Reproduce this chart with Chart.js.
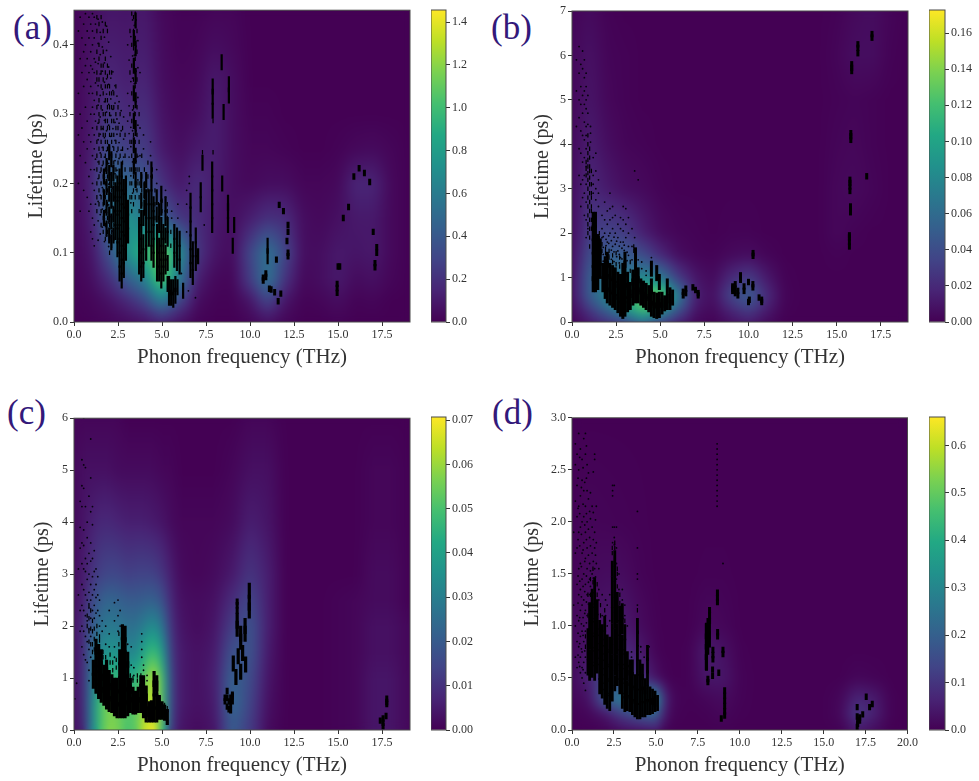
<!DOCTYPE html>
<html><head><meta charset="utf-8">
<script src="https://cdn.jsdelivr.net/npm/chart.js@4"></script>
<style>
html,body{margin:0;padding:0;background:#fff;width:979px;height:781px;overflow:hidden}
canvas{position:absolute;filter:blur(.35px)}
.tag{position:absolute;font:35px/40px "Liberation Serif",serif;color:#33197a}
</style></head><body>
<div class="tag" style="left:13px;top:8px">(a)</div>
<div class="tag" style="left:491px;top:8px">(b)</div>
<div class="tag" style="left:7px;top:393px">(c)</div>
<div class="tag" style="left:492px;top:393px">(d)</div>
<script>
const xLabel='Phonon frequency (THz)', yLabel='Lifetime (ps)';
const xTicks=['0.0','2.5','5.0','7.5','10.0','12.5','15.0','17.5'];
const xTicksD=['0.0','2.5','5.0','7.5','10.0','12.5','15.0','17.5','20.0'];
const yTicksA=['0.0','0.1','0.2','0.3','0.4'];
const yTicksB=['0','1','2','3','4','5','6','7'];
const yTicksC=['0','1','2','3','4','5','6'];
const yTicksD=['0.0','0.5','1.0','1.5','2.0','2.5','3.0'];
const barTicksA=['0.0','0.2','0.4','0.6','0.8','1.0','1.2','1.4'];
const barTicksB=['0.00','0.02','0.04','0.06','0.08','0.10','0.12','0.14','0.16'];
const barTicksC=['0.00','0.01','0.02','0.03','0.04','0.05','0.06','0.07'];
const barTicksD=['0.0','0.1','0.2','0.3','0.4','0.5','0.6'];
const barMaxA=1.456, barMaxB=0.1728, barMaxC=0.0707, barMaxD=0.66;

// density fields: node frequencies, node lifetimes (top to bottom), one row per lifetime
const heatXA=[0,1,2,3,4,5,6,7,8,9,10,11,12,13,14,15,16,17,18,19.1];
const heatYA=[.45,.40,.35,.30,.25,.20,.15,.10,.06,.03,0];
const heatA=[
[.02,.05,.09,.08,.10,.03,.01,.01,.02,.02,0,0,0,0,0,0,0,0,0,0],
[.02,.07,.12,.10,.12,.04,.01,.02,.05,.03,0,0,0,0,0,0,0,0,0,0],
[.02,.08,.16,.12,.15,.05,.02,.03,.10,.05,0,0,0,0,0,0,0,0,0,0],
[.02,.09,.24,.16,.20,.07,.03,.05,.12,.05,.01,.01,0,0,0,0,0,0,0,0],
[.02,.11,.36,.26,.26,.10,.05,.10,.12,.05,.02,.02,.01,0,0,.01,.03,.04,.02,0],
[.02,.14,.52,.50,.40,.20,.09,.18,.11,.05,.03,.05,.05,.02,.02,.03,.15,.15,.03,0],
[.02,.12,.52,.75,.60,.45,.22,.18,.10,.05,.12,.20,.18,.05,.03,.06,.10,.10,.03,0],
[.02,.08,.36,.72,.95,1.2,.70,.22,.08,.04,.30,.55,.30,.05,.05,.10,.08,.10,.03,0],
[.01,.05,.18,.40,.60,1.1,.55,.12,.03,.02,.25,.55,.20,.03,.05,.10,.04,.06,.02,0],
[.01,.02,.07,.16,.30,.60,.30,.05,.01,.01,.08,.30,.08,.01,.02,.05,.01,.02,0,0],
[0,.01,.02,.04,.06,.10,.05,.01,0,0,.02,.05,.02,0,0,.01,0,0,0,0]];

const heatXB=[0,1,2,3,4,5,6,7,8,9,10,11,12,13,14,15,16,17,18,19.1];
const heatYB=[7,6,5,4,3,2,1.5,1,.6,.3,0];
const heatB=[
[.002,.005,.001,0,0,0,0,0,0,0,0,0,0,0,0,.001,.004,.006,.002,0],
[.003,.008,.002,.001,0,0,0,0,0,0,0,0,0,0,0,.002,.006,.006,.001,0],
[.003,.010,.003,.001,0,0,0,0,0,0,0,0,0,0,0,.001,.002,.001,0,0],
[.004,.014,.006,.002,.001,0,0,0,0,0,0,0,0,0,0,.002,.003,.001,0,0],
[.005,.020,.012,.006,.004,.001,0,0,0,0,0,0,0,0,0,.003,.004,.002,0,0],
[.004,.030,.035,.030,.015,.005,.002,.001,0,.001,.001,0,0,0,0,.003,.001,0,0,0],
[.004,.040,.050,.050,.040,.020,.006,.002,.001,.004,.006,.002,0,0,0,.001,0,0,0,0],
[.004,.050,.070,.070,.080,.070,.030,.010,.004,.020,.030,.012,.001,0,0,0,0,0,0,0],
[.004,.050,.080,.100,.130,.140,.070,.015,.006,.035,.050,.022,.002,0,0,0,0,0,0,0],
[.003,.030,.060,.090,.130,.100,.050,.010,.004,.020,.035,.015,.001,0,0,0,0,0,0,0],
[.001,.010,.020,.030,.050,.030,.012,.003,.001,.006,.010,.004,0,0,0,0,0,0,0,0]];

const heatXC=[0,.5,1,1.5,2,2.5,3,3.5,4,4.5,5,5.5,6,7,8,9,10,11,12,14,16,17,18,19.1];
const heatYC=[6,5,4,3,2.5,2,1.5,1,.5,0];
const heatC=[
[.001,.001,.001,.001,.001,.001,0,0,0,0,0,0,0,0,0,0,.001,.001,0,0,0,0,0,0],
[.001,.003,.003,.003,.003,.002,.002,.002,.002,.002,.001,.001,0,0,0,.001,.003,.003,0,0,0,.001,.001,0],
[.001,.004,.006,.008,.008,.007,.006,.006,.006,.005,.004,.002,.001,.001,.001,.002,.006,.004,0,0,0,.001,.001,0],
[.002,.005,.010,.014,.015,.015,.013,.014,.014,.014,.011,.006,.002,.001,.002,.005,.011,.006,0,0,0,.002,.002,0],
[.002,.006,.015,.021,.023,.022,.020,.020,.021,.022,.018,.008,.003,.002,.003,.009,.015,.006,0,0,.001,.002,.002,0],
[.003,.008,.020,.027,.029,.028,.026,.026,.030,.035,.028,.010,.004,.002,.004,.013,.018,.006,0,0,.001,.003,.003,.001],
[.003,.008,.024,.034,.037,.036,.032,.032,.042,.050,.040,.012,.005,.003,.005,.018,.018,.005,0,0,.001,.003,.003,.001],
[.003,.008,.028,.042,.048,.046,.042,.045,.052,.065,.050,.014,.005,.003,.006,.022,.016,.004,0,0,.001,.004,.004,.001],
[.003,.007,.030,.050,.058,.055,.050,.052,.060,.068,.052,.014,.005,.003,.005,.024,.014,.003,0,0,.001,.004,.004,.001],
[.003,.006,.030,.050,.058,.056,.050,.052,.065,.070,.050,.012,.004,.002,.004,.020,.012,.002,0,0,.001,.004,.004,.001]];

const heatXD=[0,1,2,3,4,5,5.5,6,7,8,9,10,11,12,13,14,15,16,17,18,19,20];
const heatYD=[3,2,1.5,1,.75,.5,.3,.15,0];
const heatD=[
[0,0,0,0,0,0,0,0,0,0,0,0,0,0,0,0,0,0,0,0,0,0],
[.004,.008,.006,.004,.002,0,0,0,0,0,0,0,0,0,0,0,0,0,0,0,0,0],
[.006,.015,.020,.020,.005,0,0,0,0,.002,.002,0,0,0,0,0,0,0,0,0,0,0],
[.010,.030,.040,.050,.020,.002,0,0,0,.015,.010,0,0,0,0,0,0,0,0,0,0,0],
[.010,.040,.070,.080,.050,.005,0,0,.002,.050,.030,.002,0,0,0,0,0,0,0,0,0,0],
[.015,.060,.150,.120,.100,.030,.005,0,.002,.040,.040,.005,0,0,0,0,0,0,.010,.005,0,0],
[.010,.030,.200,.280,.250,.350,.080,.010,.001,.010,.020,.004,0,0,0,0,0,.010,.070,.050,.002,0],
[.003,.010,.040,.120,.180,.220,.050,.005,0,.002,.010,.002,0,0,0,0,0,.012,.110,.060,.002,0],
[0,.001,.004,.015,.020,.030,.005,0,0,0,.002,0,0,0,0,0,0,.003,.040,.020,0,0]];

// phonon points, each row: frequency, then lifetimes. Fine specks, short dashes, tall packed cores.
const specksA=[
[.25,.42,.33,.27,.2],[.35,.44,.38,.3,.24,.16],[.45,.41,.36,.28],[.55,.43,.39,.34,.26,.19],
[.65,.445,.4,.37,.31,.23],[.75,.42,.38,.35,.29,.25,.18],[.85,.44,.41,.36,.33,.27,.21,.16],
[.95,.43,.39,.37,.34,.3,.26,.22,.17,.13],[1.05,.445,.42,.4,.365,.33,.31,.28,.24,.2,.15,.12],
[1.15,.44,.41,.38,.36,.32,.3,.27,.25,.22,.19,.14,.11],[1.22,.43,.375,.345,.29,.235,.17],
[1.37,.437,.402,.373,.341,.313,.287,.263,.231,.207,.174,.146,.118],
[1.49,.418,.386,.358,.327,.296,.271,.244,.216,.183,.155,.127],
[1.61,.433,.397,.362,.336,.306,.279,.252,.226,.194,.163,.137],
[1.73,.411,.374,.346,.318,.291,.266,.238,.209,.178,.149,.116],
[1.85,.427,.392,.351,.329,.303,.276,.247,.219,.188,.158,.124],
[1.97,.404,.368,.343,.314,.284,.256,.229,.199,.169,.143,.109],
[2.09,.383,.352,.322,.298,.268,.241,.213,.186,.152,.122],
[2.21,.361,.334,.307,.279,.253,.224,.193,.167,.131],
[2.33,.341,.316,.288,.262,.233,.214,.176],[2.44,.326,.293,.271,.246,.219],
[2.56,.318,.287,.259,.236],[2.68,.305,.276,.248],[2.82,.296,.264,.238],[3.13,.378,.312,.272,.238],
[3.23,.412,.347,.281,.253,.211,.172],[3.33,.436,.384,.352,.306,.276,.231,.186],[3.43,.428,.385,.344,.303,.258,.214],
[3.53,.436,.398,.362,.318,.276,.232,.191],[3.63,.406,.367,.324,.284,.239,.205],
[3.05,.4,.33,.29,.25],[3.75,.36,.28,.24],[3.95,.27,.25],[4.35,.26,.24],[4.7,.22,.2],[5.2,.19,.18],
[5.9,.17,.15],[6.4,.19,.17,.13],[6.55,.21,.2],[5.55,.15,.16],[7.4,.14],[6.9,.035],[6.5,.045],[6.1,.07]];
const dashesA=[
[1.3,.44,.42,.39,.36,.35,.33,.31,.28,.26,.24,.22,.2,.18,.16],
[1.42,.43,.4,.38,.35,.32,.3,.29,.27,.25,.23,.21,.19,.17],
[1.54,.44,.41,.37,.36,.34,.31,.28,.26,.24,.22,.2,.18,.16,.14],
[1.66,.42,.39,.37,.35,.33,.3,.28,.27,.25,.23,.21,.19,.17,.15,.13],
[1.78,.43,.38,.36,.34,.32,.3,.29,.27,.26,.24,.22,.2,.18,.16,.14,.12],
[1.9,.42,.37,.355,.34,.32,.31,.29,.28,.26,.25,.23,.21,.19,.17,.15,.13],
[2.02,.36,.34,.33,.31,.3,.28,.27,.25,.24,.22,.2,.18,.16,.14,.12,.1],
[2.14,.36,.33,.31,.29,.27,.26,.24,.23,.21,.19,.17,.15,.13,.11],
[2.26,.33,.31,.29,.27,.25,.23,.22,.2,.18,.16,.14,.12],[2.38,.34,.3,.28,.26,.24,.22,.21],
[2.5,.31,.28,.25,.23],[2.62,.3,.27,.24],[2.76,.28,.25,.23],[2.9,.27,.24,.22],
[3.18,.42,.36,.3,.26,.22,.2,.18],[3.28,.445,.4,.37,.33,.29,.26,.24,.22,.2,.18,.16],
[3.38,.44,.42,.395,.37,.35,.33,.31,.29,.27,.25,.23,.21,.19,.17],
[3.48,.445,.43,.41,.38,.36,.34,.32,.3,.28,.26,.24,.22,.2,.18],
[3.58,.42,.39,.35,.31,.27,.24,.22,.2,.19],[3.7,.3,.26,.22,.2,.18,.16],[3.85,.24,.21,.19,.17],
[4,.22,.2,.18],[4.2,.23,.21,.19],[4.45,.22,.21],[4.6,.19,.17,.15],[4.8,.17,.15],[5,.175,.16],
[5.3,.17,.16,.15],[5.5,.13,.11],[7.3,.245],[7.9,.245,.29],
[10.75,.06,.064],[10.9,.065,.07],[11.1,.048],[11.2,.047],[11.4,.043],[11.6,.03],[11.75,.041],[11.5,.09],
[11.66,.169],[11.9,.16],[12.16,.13,.14,.1,.095],[12.1,.117],[15.3,.15],[15.6,.166],[15,.08],[15.1,.08],
[14.95,.049,.042,.055],[17,.13],[17.2,.108,.1],[17.1,.079,.085],[16.2,.222],[15.9,.21],[16.5,.215],[16.8,.202]];
const coresA=[
[1.7,.15,.18,.21],[1.85,.135,.165,.195,.225],[2,.125,.155,.185,.215,.245],[2.12,.115,.145,.175,.205,.235],[2.24,.125,.155,.185,.215],
[3.4,.225,.255,.29,.33,.37,.41],[3.5,.205,.24,.28,.32,.355,.395,.435],
[3.82,.175,.205],[4,.165,.19],[4.1,.205],[4.4,.22],[4.7,.155,.18],[4.96,.165,.185],[5.2,.15,.17],
[2.35,.13,.15,.17,.19],[2.47,.105,.125,.145,.165,.185,.2],[2.59,.07,.09,.11,.13,.15,.17,.19,.21],
[2.71,.06,.08,.1,.12,.14,.16,.18,.2,.22],[2.83,.075,.095,.115,.135,.155,.175,.195],
[2.95,.1,.12,.14,.16,.18,.2],[3.07,.125,.145,.165],
[3.7,.08,.1,.12,.14],[3.82,.07,.09,.11,.13,.15],[3.94,.075,.095,.115,.15],[4.1,.1,.12,.14,.16,.18],
[4.25,.12,.14,.16,.18],[4.4,.1,.12,.14,.16,.18,.2],[4.52,.09,.11,.13,.15,.17],
[4.72,.07,.09,.11,.13],[4.84,.07,.09,.11,.14,.16],[4.96,.06,.08,.1,.12,.14],[5.08,.07,.09,.11,.13],
[5.2,.08,.1,.125],[5.32,.055,.085,.12,.14],[5.4,.035,.055],[5.52,.035,.05],[5.64,.032,.05],
[5.76,.038,.055],[5.88,.05],[5.7,.09,.11,.13],[5.85,.085,.105,.125],[6,.08,.1,.12],[6.2,.045],
[6.62,.075,.095,.115,.135,.155,.175],[6.75,.065,.085,.105],[6.92,.085,.105,.125],[7.05,.095],
[7.2,.17,.19],[7.3,.23],[7.85,.14,.16,.18,.2,.22],[7.88,.305,.325,.34],[8.39,.375],[8.5,.303],
[8.8,.327,.343],[8.42,.2],[8.75,.14,.16,.172],[9.1,.14],[9.02,.11],[11,.095,.11]];

const specksB=[
[.25,5.9,5.2,4.4],[.4,6.2,5.6,5,4.6,3.9,3.3],[.5,5.8,5.3,4.9,4.3,3.8,3.1,2.6],
[.6,6.1,5.7,5.1,4.7,4.2,3.6,3.2,2.8],[.7,5.9,5.5,5.2,4.9,4.5,4.1,3.7,3.3,2.9,2.4],
[.8,5.6,5.3,5,4.8,4.4,4.2,3.9,3.5,3.1,2.7,2.3,1.9],[.9,5.1,4.7,4.45,2.1],[1.05,4.4,4.25,4.05],
[1.2,3.7,3.3,3.1,2.9],[1.35,3.8,3.4,3,2.75],[1.5,3.2,2.9,2.6],[1.7,2.4,2.1,1.9],[1.85,2.7,2.3,2],
[2,2.5,2.2,1.8],[2.15,2.9,2.55,2.3,2],[2.3,2.6,2.35,2.1,1.7],[2.45,2.4,2,1.75],[2.6,2.2,1.9,1.6],
[2.75,2.35,2.1,1.8,1.45],[2.9,2.6,2.3,2.05,1.8],[3.05,2.55,2.2,1.9],[3.2,2.35,2,1.7,1.5],
[3.4,2.1,1.7,1.4],[3.55,3.4,1.9],[3.75,3.2,1.4],[3.95,1.35,1.2],[4.2,1.15,1.05],[4.5,1.45],
[1.77,1.92,1.68,1.52,1.37],[1.93,1.86,1.72,1.43],[2.08,1.94,1.77,1.51],[2.23,1.83,1.62,1.41],
[2.38,1.91,1.58,1.36],[2.53,1.82,1.47],[2.68,1.71,1.52,1.33],[2.83,1.66,1.42],[2.96,1.73,1.61],[3.12,1.57,1.38]];
const dashesB=[
[.8,3.6,3.45,3.3],[.9,4.2,4,3.8,3.65,3.5,3.35,3.2,3,2.8,2.6,2.4,2.2,2],[1,3.9,3.7,3.5,3.4,3.25,3.1,2.9,2.7,2.5,2.3,2.1,1.9,1.7],
[1.1,3.4,3.1,2.9,2.8,2.6,2.5,2.3,2.1],[1.55,2,1.9],[1.7,1.75,1.6],[1.9,1.55,1.65],[2.1,1.6,1.45],[2.3,1.5,1.35],
[2.5,1.55,1.3],[2.7,1.45,1.25],[3.3,1.35,1.15],[3.5,1.7,1.6],
[6.3,.68,.6],[6.45,.75,.65],[6.85,.78],[7,.72],[7.15,.65,.6],[9.1,.8,.75,.7],[9.25,.85,.75,.65],[9.4,.7,.6],
[9.55,.95,1.05],[9.75,.7,.8],[10,.9,.45],[10.05,.5],[10.25,.85,.78],[10.6,.55],[10.75,.5,.45],
[17,6.48,6.4],[16.2,6.17,6.05,6.25],[15.85,5.72,5.65,5.8],[15.8,4.18,4.1,4.25],[16.7,3.28],
[15.75,3.13,3.05,3.2,2.95],[15.78,2.54,2.47,2.6],[15.72,1.8,1.7,1.9,1.95],[10.26,1.49,1.55]];
const coresB=[
[1.2,.85,1.1,1.4,1.7,2,2.3],[1.33,.85,1.15,1.45,1.75,2,2.3],[1.46,.9,1.2,1.5,1.8],[1.6,1.15,1.45,1.7],
[1.75,.85,1.15],[1.88,.7,1,1.3],[2,.6,.9,1.2,1.4],[2.15,.55,.85,1.15],[2.3,.5,.8,1.1],[2.45,.45,.75,1.05],
[2.6,.38,.68,.95],[2.75,.3,.6,.9],[2.88,.25,.55,.85,1.15],[3,.3,.6,.9,1.2,1.4],[3.15,.4,.7,.95],[3.3,.45,.72],
[3.45,.55,.8,1],[3.6,.6,.9,1.2,1.5],[3.75,.6,.85,1.05],[3.9,.55,.8],[4.05,.5,.75],[4.2,.45,.7],[4.35,.4,.65],
[4.5,.3,.55,.8,1.2],[4.65,.27,.5],[4.8,.25,.48,1.1],[4.95,.27,.5,.9],[5.1,.35,.5],[5.25,.42],[5.4,.45,.8],
[5.55,.45,.6],[5.7,.55]];

const specksC=[
[.05,.6],[.15,.9],[.25,3.1,2.6],[.35,4.4,3.9,3.5,2.3,1.9],[.45,5.2,4.7,4.3,3.6,3.2,2.8,2.4,2,1.6],
[.55,6,5.1,4.65,3.85,3.55,3.1,2.7,2.3,1.9,1.45],[.65,5.05,4.3,3.3,3.05,2.6,2.2,1.8,1.35],
[.75,4,3.7,3.2,2.9,2.5,2.1,1.7,1.3],[.85,4.5,3.4,3,2.65,2.35,1.95,1.55,1.15,.95],
[.95,5.6,4.85,4.2,3.6,3.25,2.8,2.5,2.15,1.8,1.4],[1.05,4.3,3.95,3.3,2.95,2.6,2.3],[1.15,3.45,3.05,2.7,2.4,2.15],
[1.25,3.1,2.8,2.55,2.25],[1.35,2.95,2.6,2.3],[1.45,2.5,2.2,2],[1.6,2.1,1.9],[1.8,2,1.65],[2,2.3,1.85,1.6],
[2.3,2.45,2.1,1.6,1.4],[2.5,2.5,2.2,1.9],[2.62,2.3,2],[3.05,1.65],[3.25,1.6,1.25],[3.4,1.2,1.05],
[3.85,1.85,1.7,1.55,1.4],[3.95,1.25,1.15],[4.15,1.05,.95],[5.35,.36]];
const dashesC=[
[.75,2.2,2],[.85,2.4,2.15,1.9,1.7],[.95,2.3,1.95,1.65],[1.05,2.1,1.9,1.65,1.5],[1.15,1.95,1.75,1.55],
[1.3,2,1.85],[1.45,1.8,1.72],[1.65,1.5,1.4],[1.8,1.4,1.3],[2.05,1.45,1.3],[2.2,1.3,1.15],[2.4,1.35,1.2],
[2.55,1.65,1.85],[3.2,1.05],[3.35,.95,1],[3.6,.95,1.05],[3.8,1.05],[5.15,.48],[5.3,.42],
[8.58,.55,.62],[8.7,.75,.45,.62],[8.8,.4,.55],[8.9,.38,.5,.62],[9,.55,.65,.68],[9.27,2.3,2.4,2.47],
[17.77,.6,.54,.5],[17.56,.22,.14,.07],[17.4,.18],[17.73,.27]];
const coresC=[
[1.1,.95,1.2],[1.25,.85,1.1,1.35,1.6],[1.4,.75,1,1.25,1.5],[1.55,.68,.93,1.18,1.4],[1.7,.62,.87,1.1],
[1.85,.55,.8,1.05,1.2],[2,.5,.75,1],[2.15,.48,.7,.92],[2.3,.42,.65,.85],[2.45,.38,.6,.85],
[2.6,.38,.63,.88,1.15,1.4],[2.75,.38,.63,.88,1.13,1.38,1.63,1.88],[2.9,.38,.63,.88,1.13,1.38,1.63,1.85],
[3.05,.42,.67,.92,1.17,1.35],[3.2,.48,.7,.85],[3.35,.45,.68],[3.5,.45,.6],[3.65,.48,.68],[3.8,.48,.73,.9],
[3.95,.38,.63,.9],[4.1,.3,.55,.7],[4.25,.3,.4],[4.4,.3,.42],[4.55,.3,.55,.8,.98],[4.7,.3,.55,.8,.9],
[4.85,.35,.52],[5,.35,.4],[5.15,.33],[5.3,.25],
[9.96,2.68,2.45,2.3],[9.72,2,1.85],[9.27,2.1,1.95],[9.47,1.85,1.7],[9.58,1.48],[9.33,1.42],[9.05,1.28],
[9.75,1.26],[9.2,1.02],[9.47,1.12]];

const specksD=[
[.1,1.9,1.2],[.2,2.75,2.55,2.2,1.7,1,.7],[.3,2.65,2.35,2.05,1.75,1.4,1.1,.85,.6],
[.4,2.85,2.5,2.15,1.9,1.55,1.3,1.05,.8,.65],[.5,2.7,2.25,1.95,1.6,1.35,1.15,.9,.7,.55],
[.6,2.6,2.4,2,1.7,1.45,1.2,.95,.75,.6,.5],[.7,2.8,2.3,2.05,1.8,1.5,1.25,1,.85,.65,.45],
[.8,2.85,2.65,2.15,1.9,1.65,1.4,1.15,.95,.7,.55,.38],[.9,2.55,2.3,2,1.75,1.55,1.3,1.1],
[1.05,2.1,1.85,1.6,1.45,1.3],[1.2,2.15,1.95,1.7,1.5],[1.35,2.65,2.6,1.9,1.75,1.55],[1.45,2.15,1.8,1.6],
[.36,2.42,2.13,1.83,1.48,1.22,.93,.72],[.46,2.62,2.08,1.77,1.43,1.08,.83,.61],[.56,2.33,1.88,1.57,1.28,1.02,.78],
[.66,2.52,2.17,1.73,1.38,1.08,.91,.58],[.76,2.38,1.97,1.62,1.33,1.12,.76],[.86,2.73,2.42,2.08,1.83,1.48,1.23,1.03],
[.98,2.47,2.22,1.93,1.68,1.42,1.21],[1.1,2.28,2.03,1.77,1.53,1.38],[1.27,2.48,2.09,1.83,1.62,1.46],[1.4,2.02,1.68,1.47],
[1.6,1.55,1.35,1.25],[1.8,1.3,1.1],[2,1.25,1.1],[2.1,1.2,1],[2.25,1.3,1.05],[2.42,2.35,2.3,2.25,1.95,1.8],
[2.52,2.35,1.95,1.85,1.78],[2.65,1.95,1.75,1.6,1.45],[2.8,1.5,1.35],[3,1.35,1.25],[3.15,1.2,1.1],[3.3,1],
[3.55,.75,.7],[3.9,2.1,1.75,1.5,1.45,1.2],[4.1,.8,.75],[4.3,.7],[4.6,.8],
[8.65,2.75,2.7,2.65,2.6,2.55,2.5,2.45,2.4,2.35,2.3,2.25,2.2,2.15],[9,1.6]];
const dashesD=[
[.8,.9,.8],[.95,1.1,1.3],[1.1,1.3,1.45],[1.25,1.42,1.55],[1.5,1.3,1.4],[1.7,1.1,1.2],[1.95,1.15],[2.4,1.7,1.75],
[2.55,1.75,1.8],[2.7,1.38,1.5,1.55],[2.85,1.22,1.3],[3.15,1.05],[3.9,1.15,1.05],
[8.02,1,.95,.9,.85,.8,.75,.7,.65,.6],[8.2,1.15,1.1,1.05],[8.67,1.32,1.27,1.23],[8.68,.94,.9],[8.4,.77,.72,.68],
[9,.77,.73],[8.38,.58,.52],[8.1,.49,.46],[8.75,.55],[9.1,.38,.33,.28,.23,.18,.14],[8.9,.11],
[17,.22],[17.54,.32],[17.9,.25],[17.74,.22],[17.33,.15],[17,.13],[17.15,.09,.12],[17.03,.06,.09],[17,.03]];
const coresD=[
[.95,.6,.75,.9],[1.05,.55,.7,.85,1,1.15],[1.2,.58,.72,.86,1,1.14,1.28],[1.35,.55,.69,.83,.97,1.11,1.25,1.39],
[1.5,.62,.76,.9,1.04,1.18],[1.65,.42,.56,.7,.84,.98],[1.8,.38,.52,.66,.8,.94],[1.95,.32,.46,.6,.74,.88,1.02],
[2.1,.28,.42,.56,.7,.84],[2.25,.26,.4,.54,.68,.82],[2.4,.35,.5,.65,.8,.95,1.1,1.25,1.4,1.55],
[2.55,.45,.6,.75,.9,1.05,1.2,1.35,1.5,1.65],[2.7,.5,.65,.8,.95,1.1,1.25],[2.85,.42,.56,.7,.84,.98,1.12],
[3,.28,.42,.56,.7,.84,1,1.14],[3.15,.25,.38,.52,.66,.8,.94],[3.3,.26,.4,.55,.68],[3.45,.25,.38,.5,.6],
[3.6,.22,.35,.48,.6],[3.75,.2,.33,.46],[3.9,.18,.32,.46,.6,.74,.88,1],[4.05,.18,.32,.46,.6],
[4.2,.2,.34,.46,.56],[4.35,.2,.33,.42],[4.5,.22,.35,.5,.62,.74],[4.65,.22,.34],[4.8,.23,.32],[4.95,.25,.3],[5.1,.26],
[8,.95,.85,.75,.65],[8.1,1,.9,.8],[8.2,.95,.87]];

const viridis=['#440154','#482475','#414487','#355f8d','#2a788e','#21918c','#22a884','#44bf70','#7ad151','#bddf26','#fde725'];
const rgb=viridis.map(h=>[1,3,5].map(i=>parseInt(h.slice(i,i+2),16)));
function cmap(t){t=Math.max(0,Math.min(1,t))*10;const i=Math.min(9,Math.floor(t)),f=t-i;
  return rgb[i].map((c,k)=>c+(rgb[i+1][k]-c)*f);}
function expand(rows){const out=[];rows.forEach(r=>r.slice(1).forEach(y=>out.push({x:r[0],y})));return out;}
function seg(a,v){let i=0;while(i<a.length-2&&v>a[i+1])i++;const f=(v-a[i])/(a[i+1]-a[i]);return [i,Math.max(0,Math.min(1,f))];}

const heatPlugin={id:'heat',beforeDatasetsDraw(chart,_,o){
  const a=chart.chartArea,sx=chart.scales.x,sy=chart.scales.y,W=Math.round(a.width),H=Math.round(a.height);
  const off=document.createElement('canvas');off.width=W;off.height=H;const c=off.getContext('2d');
  const img=c.createImageData(W,H),ys=[...o.ys].reverse(),rows=[...o.z].reverse();
  for(let j=0;j<H;j++){const [yi,yf]=seg(ys,sy.getValueForPixel(a.top+j+.5));
    for(let i=0;i<W;i++){const [xi,xf]=seg(o.xs,sx.getValueForPixel(a.left+i+.5));
      const v=(rows[yi][xi]*(1-xf)+rows[yi][xi+1]*xf)*(1-yf)+(rows[yi+1][xi]*(1-xf)+rows[yi+1][xi+1]*xf)*yf;
      const q=cmap(v/o.max),p=(j*W+i)*4;img.data[p]=q[0];img.data[p+1]=q[1];img.data[p+2]=q[2];img.data[p+3]=255;}}
  c.putImageData(img,0,0);
  const g=chart.ctx;g.save();g.beginPath();g.rect(a.left,a.top,a.width,a.height);g.clip();
  g.drawImage(off,a.left,a.top);g.filter='blur(5px)';g.drawImage(off,a.left,a.top);g.restore();
}};
const framePlugin={id:'frame',afterDraw(chart){const a=chart.chartArea,g=chart.ctx;g.save();g.strokeStyle='#4a4a4a';g.lineWidth=1;
  g.strokeRect(a.left,a.top,a.width,a.height);g.restore();}};

function addCanvas(l,t,w,h){const c=document.createElement('canvas');c.width=w;c.height=h;
  c.style.cssText=`left:${l}px;top:${t}px;width:${w}px;height:${h}px`;document.body.appendChild(c);return c;}
const tickFont={family:'"Liberation Serif",serif',size:12};
const xTitleFont={family:'"Liberation Serif",serif',size:21};
const yTitleFont={family:'"Liberation Serif",serif',size:20};
function fixed(labels){return {afterBuildTicks(s){s.ticks=labels.map(l=>({value:Number(l)}));},
  ticks:{callback:(v,i)=>labels[i],font:tickFont,color:'#333',autoSkip:false,maxRotation:0,padding:2},
  grid:{drawOnChartArea:false,tickLength:4,tickColor:'#333'},border:{display:false}};}

function panel(p){
  const canvasL=p.canvasL,canvasT=p.plotT-10,canvasW=440,canvasH=p.plotB+51-canvasT;
  const isolated=expand(p.dashes).filter(d=>d.x>=p.markFrom), cloud=expand(p.dashes).filter(d=>d.x<p.markFrom);
  new Chart(addCanvas(canvasL,canvasT,canvasW,canvasH),{type:'scatter',
    data:{datasets:[
      {label:'specks',data:expand(p.specks),pointRadius:.9,pointHoverRadius:0,pointBackgroundColor:'#05020c',pointBorderWidth:0},
      {label:'dashes',data:cloud,pointStyle:'line',rotation:90,pointRadius:2.2,pointBorderWidth:1.2,pointBorderColor:'#000',pointBackgroundColor:'#000'},
      {label:'marks',data:isolated,pointStyle:'line',rotation:90,pointRadius:3.2,pointBorderWidth:3,pointBorderColor:'#000',pointBackgroundColor:'#000'},
      {label:'cores',data:expand(p.cores),pointStyle:'line',rotation:90,pointRadius:p.coreR,pointBorderWidth:p.coreW,pointBorderColor:'#000',pointBackgroundColor:'#000'}]},
    options:{responsive:false,animation:false,events:[],
      layout:{padding:{left:p.titleL,top:10,right:canvasL+canvasW-p.plotR,bottom:0}},
      plugins:{legend:{display:false},tooltip:{enabled:false},heat:{xs:p.hx,ys:p.hy,z:p.hz,max:p.max}},
      scales:{
        x:{type:'linear',min:0,max:p.xMax,...fixed(p.xt),afterFit(s){s.height=51;},
           title:{display:true,text:xLabel,font:xTitleFont,color:'#333',padding:{top:2,bottom:3}}},
        y:{type:'linear',min:0,max:p.yMax,...fixed(p.yt),afterFit(s){s.width=p.plotL-canvasL-p.titleL;},
           title:{display:true,text:yLabel,font:yTitleFont,color:'#333',padding:{top:4,bottom:4}}}}},
    plugins:[heatPlugin,framePlugin]});
  const H=canvasH-40;
  new Chart(addCanvas(p.barL,canvasT,60,H),{type:'bar',
    data:{labels:['density'],datasets:[{data:[[0,p.max]],barPercentage:1,categoryPercentage:1,borderSkipped:false,
      backgroundColor(ctx){const a=ctx.chart.chartArea;if(!a)return viridis[0];
        const g=ctx.chart.ctx.createLinearGradient(0,a.bottom,0,a.top);viridis.forEach((c,i)=>g.addColorStop(i/10,c));return g;}}]},
    options:{responsive:false,animation:false,events:[],
      layout:{padding:{left:0,top:10,right:0,bottom:H-(p.plotB-canvasT)}},
      plugins:{legend:{display:false},tooltip:{enabled:false}},
      scales:{x:{display:false},
        y:{position:'right',min:0,max:p.max,...fixed(p.bt),afterFit(s){s.width=60-p.barW;}}}},
    plugins:[framePlugin]});
}
panel({canvasL:0,plotL:74,plotR:410,plotT:10,plotB:322,titleL:21,barL:431,barW:15,xMax:19.09,yMax:.45,xt:xTicks,yt:yTicksA,bt:barTicksA,max:barMaxA,hx:heatXA,hy:heatYA,hz:heatA,specks:specksA,dashes:dashesA,cores:coresA,coreR:8,coreW:2.2,markFrom:10});
panel({canvasL:480,plotL:572,plotR:908,plotT:10,plotB:322,titleL:47,barL:929,barW:16,xMax:19.04,yMax:7,xt:xTicks,yt:yTicksB,bt:barTicksB,max:barMaxB,hx:heatXB,hy:heatYB,hz:heatB,specks:specksB,dashes:dashesB,cores:coresB,coreR:8,coreW:3,markFrom:6});
panel({canvasL:0,plotL:74,plotR:410,plotT:417,plotB:730,titleL:27,barL:431,barW:15,xMax:19.09,yMax:6,xt:xTicks,yt:yTicksC,bt:barTicksC,max:barMaxC,hx:heatXC,hy:heatYC,hz:heatC,specks:specksC,dashes:dashesC,cores:coresC,coreR:8,coreW:3.2,markFrom:8});
panel({canvasL:480,plotL:572,plotR:908,plotT:417,plotB:730,titleL:37,barL:929,barW:16,xMax:20,yMax:3,xt:xTicksD,yt:yTicksD,bt:barTicksD,max:barMaxD,hx:heatXD,hy:heatYD,hz:heatD,specks:specksD,dashes:dashesD,cores:coresD,coreR:8,coreW:2.8,markFrom:7.5});
</script>
</body></html>
